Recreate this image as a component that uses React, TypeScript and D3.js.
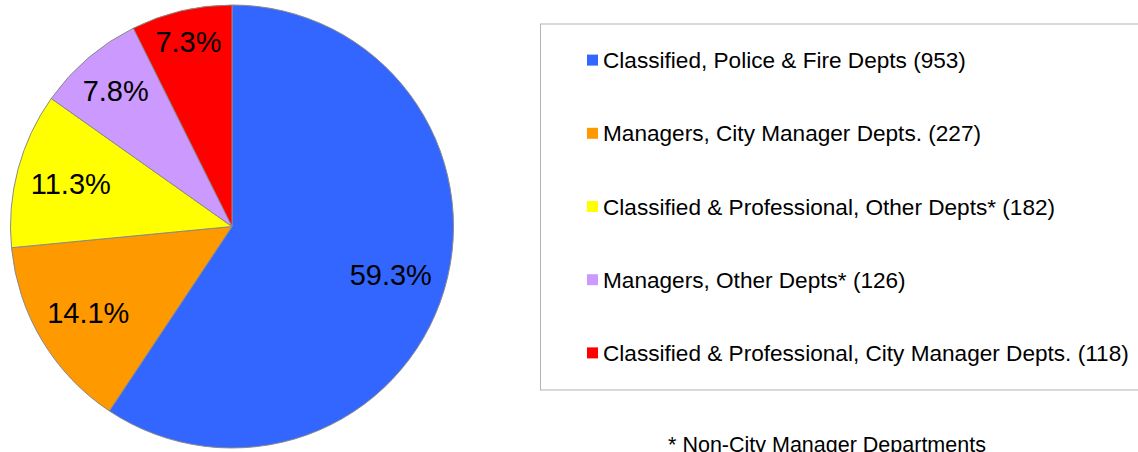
import React from "react";
import * as d3 from "d3";

const categories = [
  "Classified, Police & Fire Depts",
  "Managers, City Manager Depts.",
  "Classified & Professional, Other Depts*",
  "Managers, Other Depts*",
  "Classified & Professional, City Manager Depts.",
];
const counts = [953, 227, 182, 126, 118];
const colors = ["#3366FF", "#FF9900", "#FFFF00", "#CC99FF", "#FF0000"];
const footnote = "* Non-City Manager Departments";

const W = 1138;
const H = 452;
const FONT = "'Liberation Sans', Arial, sans-serif";

function measure(text: string, size: number): number {
  const c = document.createElement("canvas").getContext("2d");
  if (!c) return text.length * size * 0.55;
  c.font = `${size}px 'Liberation Sans', Arial, sans-serif`;
  return c.measureText(text).width;
}

export default function App() {
  const cx = 232;
  const cy = 226.5;
  const r = 221.5;
  const total = d3.sum(counts);
  const data = categories.map((c, i) => ({ c, v: counts[i], color: colors[i] }));
  const pie = d3.pie<any>().value((d) => d.v).sort(null);
  const arcs = pie(data);
  const arc = d3.arc<any>().innerRadius(0).outerRadius(r);
  const fmt = d3.format(".1%");
  const labelSize = 29;

  const legend = { x: 540, y: 23.5, w: 620, h: 366 };
  const rowY = d3
    .scaleBand<number>()
    .domain(d3.range(categories.length))
    .range([legend.y, legend.y + legend.h]);
  const legendSize = 22.6;

  return (
    <svg
      width={W}
      height={H}
      style={{ position: "absolute", left: 0, top: 0, display: "block" }}
      fontFamily={FONT}
    >
      <rect width={W} height={H} fill="#fff" />
      <g transform={`translate(${cx},${cy})`}>
        {arcs.map((a, i) => (
          <path key={i} d={arc(a) as string} fill={a.data.color} stroke="#8a8a8a" strokeWidth={1} />
        ))}
        {arcs.map((a, i) => {
          const mid = (a.startAngle + a.endAngle) / 2;
          const txt = fmt(a.data.v / total);
          const hw = measure(txt, labelSize) / 2;
          const hh = labelSize * 0.36;
          const ext = Math.abs(Math.sin(mid)) * hw + Math.abs(Math.cos(mid)) * hh;
          const rr = r * 0.94 - ext;
          const x = Math.sin(mid) * rr;
          const y = -Math.cos(mid) * rr;
          return (
            <text
              key={"l" + i}
              x={x}
              y={y + labelSize * 0.36}
              textAnchor="middle"
              fontSize={labelSize}
              fill="#000"
            >
              {txt}
            </text>
          );
        })}
      </g>
      <rect
        x={legend.x + 0.5}
        y={legend.y + 0.5}
        width={legend.w}
        height={legend.h}
        fill="none"
        stroke="#b3b3b3"
        strokeWidth={1}
      />
      {categories.map((c, i) => {
        const yc = (rowY(i) as number) + rowY.bandwidth() / 2;
        return (
          <g key={"lg" + i}>
            <rect x={587} y={yc - 5.5} width={11} height={11} fill={colors[i]} />
            <text x={603} y={yc + legendSize * 0.36} fontSize={legendSize} fill="#000">
              {`${c} (${counts[i]})`}
            </text>
          </g>
        );
      })}
      <text x={827} y={452} textAnchor="middle" fontSize={21.5} fill="#000">
        {footnote}
      </text>
    </svg>
  );
}
